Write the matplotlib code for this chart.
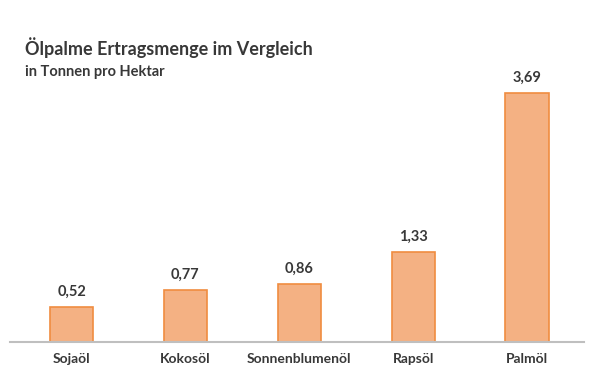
import numpy as np
import matplotlib.pyplot as plt

plt.rcParams['font.family'] = ['Lato', 'DejaVu Sans']

sorten = ['Sojaöl', 'Kokosöl', 'Sonnenblumenöl', 'Rapsöl', 'Palmöl']
ertrag = [0.52, 0.77, 0.86, 1.33, 3.69]
beschriftung = ['0,52', '0,77', '0,86', '1,33', '3,69']

textfarbe = '#383838'

fig = plt.figure(figsize=(6, 3.81), dpi=100)
ax = fig.add_axes([10/600, 1-342/381, 574/600, (342-50)/381])

x = np.arange(len(sorten))
balken = ax.bar(x, ertrag, width=0.38, color='#F4B183', edgecolor='#F08C40', linewidth=1.2)

for i in range(len(sorten)):
    ax.text(x[i], ertrag[i] + 0.12, beschriftung[i], ha='center', va='bottom',
            fontsize=10.5, fontweight='bold', color=textfarbe)

ax.set_xlim(-0.54, 4.5)
ax.set_ylim(0, (342-50)/67.5)
ax.set_xticks(x)
ax.set_xticklabels(sorten, fontsize=10, fontweight='bold', color=textfarbe)
ax.tick_params(axis='x', length=0, pad=8)
ax.set_yticks([])
for s in ['top', 'right', 'left']:
    ax.spines[s].set_visible(False)
ax.spines['bottom'].set_color('#BFBFBF')
ax.spines['bottom'].set_linewidth(1.5)

fig.text(25/600, 1-48/381, 'Ölpalme Ertragsmenge im Vergleich', fontsize=13,
         fontweight='bold', color=textfarbe, va='center')
fig.text(25/600, 1-72/381, 'in Tonnen pro Hektar', fontsize=10.5,
         fontweight='bold', color=textfarbe, va='center')

plt.savefig('out.png', dpi=100)
